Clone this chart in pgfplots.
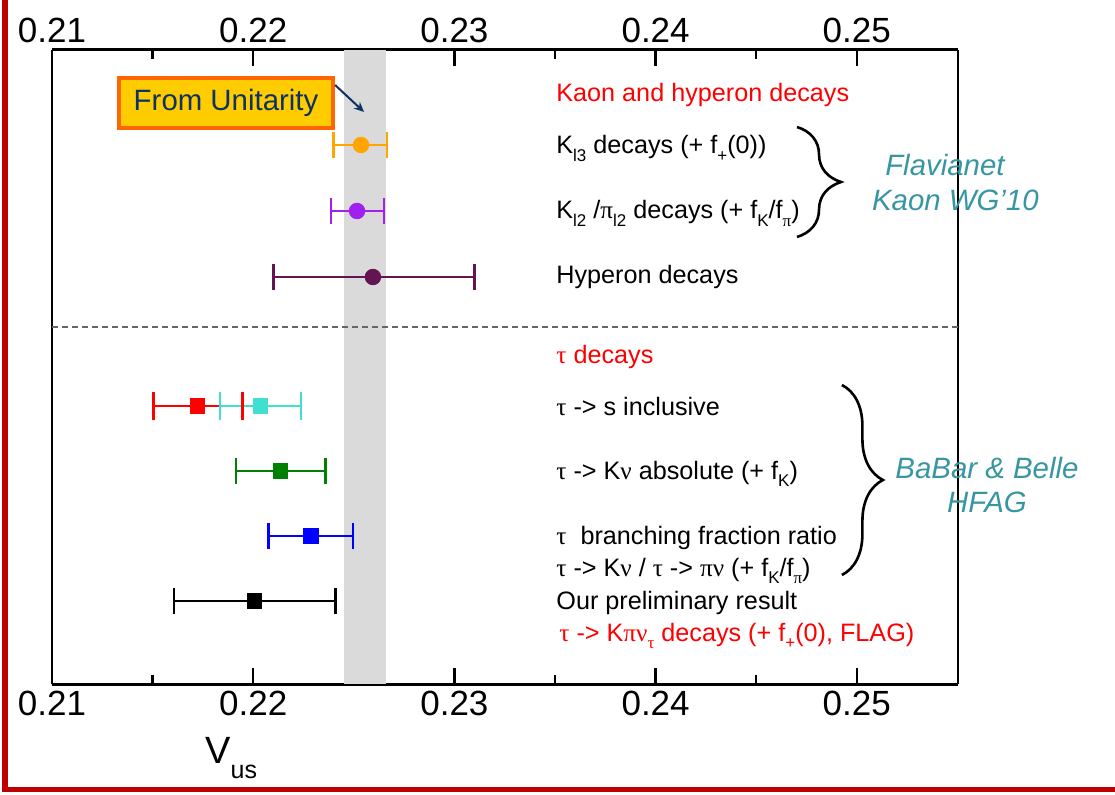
\documentclass[border=0pt]{standalone}
\usepackage{pgfplots}
\pgfplotsset{compat=1.18}
\usepackage{fontspec}
\setmainfont{Liberation Sans}
\newfontfamily\grk{Liberation Serif}
\usetikzlibrary{decorations.pathreplacing,arrows.meta}
\definecolor{ckl3}{RGB}{255,165,0}
\definecolor{ckl2}{RGB}{160,32,240}
\definecolor{chyp}{RGB}{100,20,80}
\definecolor{cred}{RGB}{255,0,0}
\definecolor{ccyan}{RGB}{64,224,208}
\definecolor{cgreen}{RGB}{0,128,0}
\definecolor{cblue}{RGB}{0,0,255}
\definecolor{band}{RGB}{218,218,218}
\definecolor{teal2}{RGB}{56,150,162}
\definecolor{boxfill}{RGB}{255,204,0}
\definecolor{boxdraw}{RGB}{255,102,0}
\definecolor{navy2}{RGB}{15,50,100}
\definecolor{frame}{RGB}{192,0,0}
\newcommand\g[1]{{\grk #1}}
\newcommand\sub[1]{\raisebox{-0.55ex}{\fontsize{8.5}{9}\selectfont #1}}
\begin{document}
\begin{tikzpicture}
\useasboundingbox (0,0) rectangle (557.5pt,397pt);
\fill[white] (0,0) rectangle (557.5pt,397pt);
\begin{axis}[
  at={(26pt,55pt)}, anchor=south west, scale only axis,
  width=453pt, height=317pt,
  xmin=0.21, xmax=0.25503, ymin=0, ymax=634,
  ytick=\empty,
  xtick={0.21,0.22,0.23,0.24,0.25},
  xticklabels={0.21,0.22,0.23,0.24,0.25},
  minor xtick={0.215,0.225,0.235,0.245},
  tick align=inside,
  major tick length=8pt, minor tick length=4.5pt,
  tick style={black, line width=1.2pt},
  separate axis lines,
  x axis line style={line width=1.5pt},
  y axis line style={line width=0.6pt},
  ticklabel style={font=\fontsize{17.5}{20}\selectfont},
  clip=false,
]
% unitarity band
\addplot[fill=band, draw=none] coordinates {(0.2245,634) (0.2266,634)} \closedcycle;
% separator
\addplot[dash pattern=on 3pt off 2pt, gray!80!black, line width=0.7pt] coordinates {(0.21,357) (0.25503,357)};
% Kl3
\addplot[ckl3, line width=1.3pt, mark=|, mark size=6.7pt] coordinates {(0.2240,539) (0.22665,539)};
\addplot[ckl3, only marks, mark=*, mark size=3.9pt] coordinates {(0.22536,539)};
% Kl2
\addplot[ckl2, line width=1.3pt, mark=|, mark size=6.7pt] coordinates {(0.22387,473) (0.2265,473)};
\addplot[ckl2, only marks, mark=*, mark size=3.9pt] coordinates {(0.22516,473)};
% Hyperon
\addplot[chyp, line width=1.3pt, mark=|, mark size=6.7pt] coordinates {(0.2210,407) (0.2310,407)};
\addplot[chyp, only marks, mark=*, mark size=3.9pt] coordinates {(0.22595,407)};
% tau s inclusive (red)
\addplot[cred, line width=1.3pt, mark=|, mark size=7pt] coordinates {(0.21503,278) (0.21948,278)};
\addplot[cred, only marks, mark=square*, mark size=3.6pt] coordinates {(0.21724,278)};
% tau s inclusive (cyan)
\addplot[ccyan, line width=1.3pt, mark=|, mark size=7pt] coordinates {(0.21835,278) (0.22238,278)};
\addplot[ccyan, only marks, mark=square*, mark size=3.6pt] coordinates {(0.22037,278)};
% tau K nu absolute
\addplot[cgreen, line width=1.3pt, mark=|, mark size=6.5pt] coordinates {(0.21915,213) (0.2236,213)};
\addplot[cgreen, only marks, mark=square*, mark size=3.6pt] coordinates {(0.22135,213)};
% ratio
\addplot[cblue, line width=1.3pt, mark=|, mark size=6.5pt] coordinates {(0.22077,148) (0.22497,148)};
\addplot[cblue, only marks, mark=square*, mark size=3.6pt] coordinates {(0.22287,148)};
% our result
\addplot[black, line width=1.3pt, mark=|, mark size=6.5pt] coordinates {(0.21606,83) (0.22408,83)};
\addplot[black, only marks, mark=square*, mark size=3.6pt] coordinates {(0.22007,83)};

% labels
\begin{scope}[every node/.style={anchor=base west, inner sep=0pt, font=\fontsize{12.6}{15}\selectfont}]
\node[text=cred] at (axis cs:0.23505,582) {Kaon and hyperon decays};
\node at (axis cs:0.23505,530) {K\sub{l3} decays (+ f\sub{+}(0))};
\node at (axis cs:0.23505,465) {K\sub{l2} /\g{π}\sub{l2} decays (+ f\sub{K}/f\sub{\g{π}})};
\node at (axis cs:0.23505,400) {Hyperon decays};
\node[text=cred] at (axis cs:0.23505,321) {\g{τ} decays};
\node at (axis cs:0.23505,269) {\g{τ} -> s inclusive};
\node at (axis cs:0.23505,205) {\g{τ} -> K\g{ν} absolute (+ f\sub{K})};
\node at (axis cs:0.23505,140) {\g{τ}\ \ branching fraction ratio};
\node at (axis cs:0.23505,108) {\g{τ} -> K\g{ν} / \g{τ} -> \g{πν} (+ f\sub{K}/f\sub{\g{π}})};
\node at (axis cs:0.23505,75) {Our preliminary result};
\node[text=cred] at (axis cs:0.2352,43) {\g{τ} -> K\g{πν}\sub{\g{τ}} decays (+ f\sub{+}(0), FLAG)};
\end{scope}

% braces
\draw[decorate, decoration={brace, amplitude=22pt}, line width=1.3pt] (axis cs:0.24703,557) -- (axis cs:0.24703,447);
\draw[decorate, decoration={brace, amplitude=20.5pt}, line width=1.3pt] (axis cs:0.24926,299) -- (axis cs:0.24926,109);

% group labels
\begin{scope}[every node/.style={anchor=center, inner sep=0pt, text=teal2, font=\fontsize{14.7}{17}\selectfont\itshape}]
\node at (axis cs:0.25438,519) {Flavianet};
\node at (axis cs:0.25490,484) {Kaon WG'10};
\node at (axis cs:0.25647,216) {BaBar \& Belle};
\node at (axis cs:0.25647,182) {HFAG};
\end{scope}

% unitarity box
\node[draw=boxdraw, fill=boxfill, line width=2pt, minimum width=107pt, minimum height=25pt, inner sep=0pt, text=navy2, font=\fontsize{14.7}{17}\selectfont] at (axis cs:0.21865,581) {From Unitarity};
\draw[navy2, line width=1pt, -{Stealth[length=5pt,width=4.5pt]}] (axis cs:0.22407,599) -- (axis cs:0.22551,572);

% x label
\node[anchor=base west, inner sep=0pt, font=\fontsize{19}{22}\selectfont] at (axis cs:0.2176,-79) {V\raisebox{-7.5pt}{\fontsize{12.5}{14}\selectfont us}};
\end{axis}
% top tick labels
\begin{axis}[
  at={(26pt,55pt)}, anchor=south west, scale only axis,
  width=453pt, height=317pt,
  xmin=0.21, xmax=0.25503, ymin=0, ymax=634,
  ytick=\empty,
  xtick={0.21,0.22,0.23,0.24,0.25},
  xticklabels={0.21,0.22,0.23,0.24,0.25},
  xticklabel pos=upper,
  axis line style={draw=none},
  tick style={draw=none},
  ticklabel style={font=\fontsize{17.5}{20}\selectfont},
]
\end{axis}
% red frame
\draw[frame, line width=2.8pt] (2.5pt,397pt) -- (2.5pt,2.25pt) -- (557.5pt,2.25pt);
\end{tikzpicture}
\end{document}
